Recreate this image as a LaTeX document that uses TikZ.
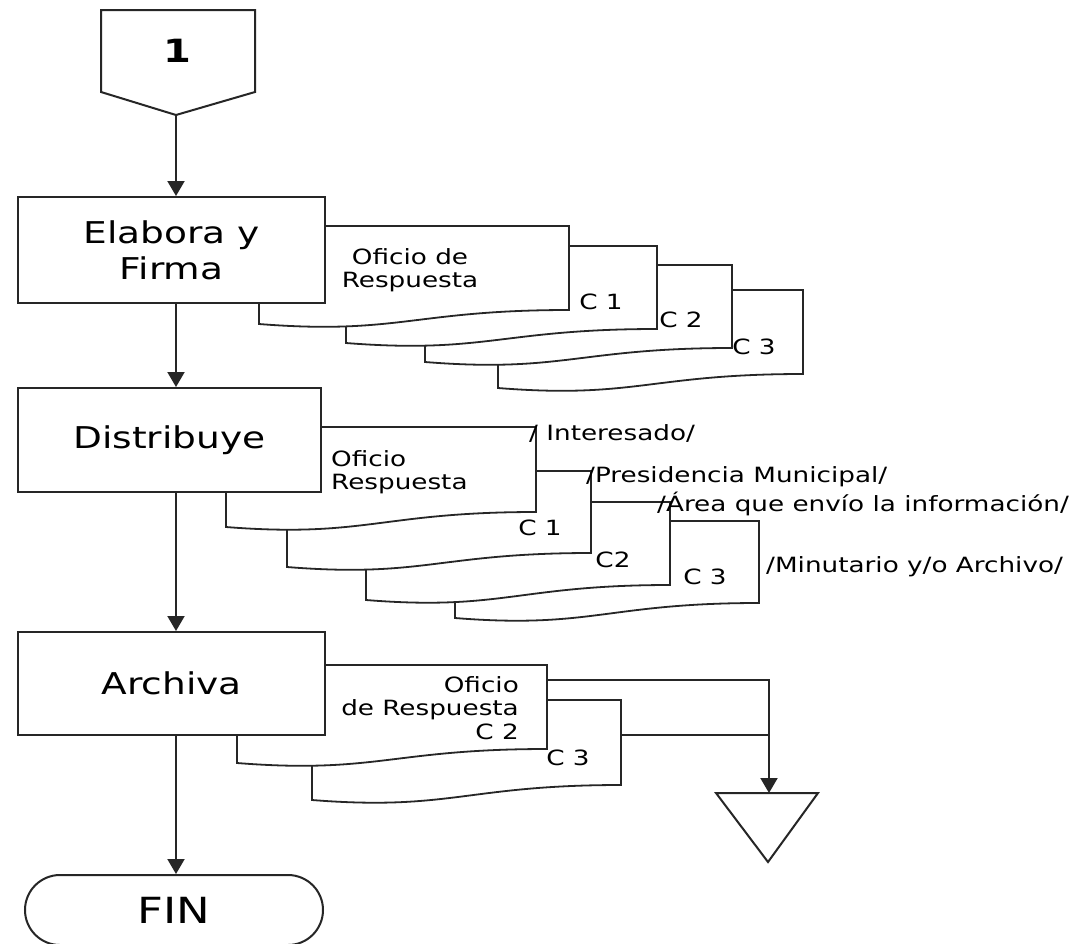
\documentclass[tikz,border=0pt]{standalone}
\usepackage{fontspec}
\setmainfont{DejaVu Sans}[FakeStretch=1.25]
\usetikzlibrary{arrows.meta}
\newcommand\bigtxt{\fontsize{30}{36}\selectfont}
\newcommand\smtxt{\fontsize{21}{23.5}\selectfont}
\newcommand\fintxt{\fontsize{36}{42}\selectfont}
\newcommand\onetxt{\fontsize{32}{38}\selectfont\bfseries}
% document shape: L, T, R, right-bottom y, left-bottom y
\newcommand\docpath[5]{%
  \draw[docst] (#1,#2) -- (#3,#2) -- (#3,#4)
    .. controls ({#3-0.5*(#3-#1)},{#4}) and ({#1+0.45*(#3-#1)},{#5+11}) .. (#1,#5) -- cycle;}
\begin{document}
\begin{tikzpicture}[x=1pt,y=-1pt,
  ln/.style={draw=black!85, line width=2pt},
  docst/.style={draw=black!85, line width=1.8pt, fill=white, line join=miter},
  boxn/.style={ln, fill=white, rectangle, inner sep=0pt, align=center, font=\bigtxt},
  lbl/.style={inner sep=0pt, font=\smtxt},
  arr/.style={draw=black!85, line width=2pt, -{Triangle[length=15pt,width=17pt]}}]
\useasboundingbox (0,0) rectangle (1076,943);
\clip (0,0) rectangle (1076,943);
\fill[white] (0,0) rectangle (1076,943);

% off-page connector
\draw[ln, fill=white, line join=miter] (101,10) -- (255,10) -- (255,92) -- (176,115) -- (101,92) -- cycle;
\coordinate (tip) at (176,115);
\node[inner sep=0pt, font=\onetxt] (one) at (177,51) {1};

% ---- stack 1
\docpath{498}{290}{803}{374}{388}
\docpath{425}{265}{732}{348}{362}
\docpath{346}{246}{657}{329}{343}
\docpath{259}{226}{569}{310}{324}
\node[boxn, minimum width=307pt, minimum height=106pt] (b1) at (171.5,250) {Elabora y\\Firma};
\node[lbl, align=center] (o1) at (410,270) {Oficio de\\Respuesta};
\node[lbl] (s1c1) at (601,302) {C 1};
\node[lbl] (s1c2) at (681,320) {C 2};
\node[lbl] (s1c3) at (754,347) {C 3};

% ---- stack 2
\docpath{455}{521}{759}{603}{618}
\docpath{366}{502}{670}{585}{600}
\docpath{287}{471}{591}{553}{567}
\docpath{226}{427}{536}{512}{527}
\node[boxn, minimum width=303pt, minimum height=104pt] (b2) at (169.5,440) {Distribuye};
\node[lbl, align=left, anchor=west] (o2) at (331,472) {Oficio\\Respuesta};
\node[lbl] (s2c1) at (540,528) {C 1};
\node[lbl] (s2c2) at (613,560) {C2};
\node[lbl] (s2c3) at (705,577) {C 3};
\node[lbl, anchor=base west] (t1) at (529,440) {/ Interesado/};
\node[lbl, anchor=base west] (t2) at (586,482) {/Presidencia Municipal/};
\node[lbl, anchor=base west] (t3) at (657,511) {/Área que envío la información/};
\node[lbl, anchor=base west] (t4) at (766,572) {/Minutario y/o Archivo/};

% ---- stack 3
\docpath{312}{700}{621}{785}{800}
\docpath{237}{665}{547}{749}{763}
\node[boxn, minimum width=307pt, minimum height=103pt] (b3) at (171.5,683.5) {Archiva};
\node[lbl, align=right, anchor=east] (o3) at (519,708) {Oficio\\de Respuesta\\C 2};
\node[lbl] (s3c3) at (568,758) {C 3};
\coordinate (o3r) at (547,680);
\coordinate (c3r) at (621,735);
\coordinate (junc) at (769,735);
\coordinate (tri) at (769,793);
\draw[ln] (o3r) -- (769,680) -- (junc);
\draw[ln] (c3r) -- (junc);
\draw[arr] (junc) -- (tri);
\draw[ln, fill=white, line join=miter] (716,793) -- (818,793) -- (768,862) -- cycle;

% ---- FIN
\node[ln, fill=white, rounded corners=35pt, minimum width=298pt, minimum height=70pt,
      inner sep=0pt, font=\fintxt] (fin) at (174,910) {FIN};

% ---- main flow
\coordinate (ax) at (176,0);
\draw[arr] (tip) -- (b1.north -| ax);
\draw[arr] (b1.south -| ax) -- (b2.north -| ax);
\draw[arr] (b2.south -| ax) -- (b3.north -| ax);
\draw[arr] (b3.south -| ax) -- (fin.north -| ax);
\end{tikzpicture}
\end{document}
